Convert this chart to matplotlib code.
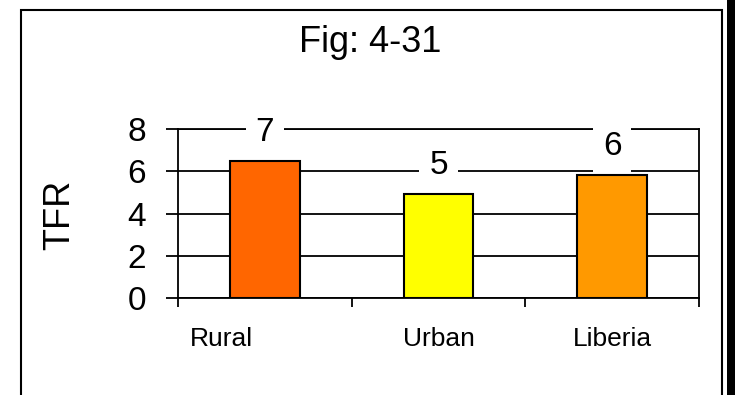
import matplotlib
matplotlib.use("Agg")
import matplotlib.pyplot as plt
from matplotlib.patches import Rectangle
from matplotlib.transforms import ScaledTranslation
import numpy as np

plt.rcParams['font.family'] = ['Liberation Sans', 'DejaVu Sans']

# TFR by residence
categories = ['Rural', 'Urban', 'Liberia']
tfr = [6.5, 4.9, 5.8]
colors = ['#FF6600', '#FFFF00', '#FF9900']
yticks = [0, 2, 4, 6, 8]

fig = plt.figure(figsize=(7.35, 3.95), dpi=100)
ax = fig.add_axes([178 / 735, 1 - 298 / 395, 521 / 735, 169 / 395])

x = np.arange(len(categories))
bars = ax.bar(x, tfr, width=0.4, color=colors, edgecolor='black', linewidth=1.5)

ax.set_xlim(-0.5, len(categories) - 0.5)
ax.set_ylim(0, 8)
ax.set_yticks(yticks)
ax.yaxis.grid(True, color='black', linewidth=1.3)
ax.set_axisbelow(True)

for s in ax.spines.values():
    s.set_linewidth(1.3)
    s.set_color('black')

ax.tick_params(axis='y', direction='out', length=9, width=1.3, pad=14, labelsize=24)
ax.set_xticks(x)
ax.set_xticklabels(categories, fontsize=19)
ax.tick_params(axis='x', which='major', length=0, pad=21)
ax.set_xticks(np.arange(len(categories) + 1) - 0.5, minor=True)
ax.tick_params(axis='x', which='minor', direction='out', length=6.5, width=1.3)

# excel pushes the first category label to the left
shift = ScaledTranslation(-43 / 100, 0, fig.dpi_scale_trans)
lab = ax.get_xticklabels()[0]
lab.set_transform(lab.get_transform() + shift)

ax.set_ylabel('TFR', fontsize=26)
ax.yaxis.set_label_coords(-0.194, 0.49)

# rounded value labels on white boxes
for xi, v in zip(x, tfr):
    ax.annotate(f"{int(v + 0.5)}", (xi, v), xytext=(0, 14.5), textcoords='offset points',
                ha='center', va='baseline', fontsize=24, zorder=5, annotation_clip=False,
                bbox=dict(boxstyle='square,pad=0.3', facecolor='white', edgecolor='none'))

fig.text(370 / 735, 1 - 51.5 / 395, 'Fig: 4-31', ha='center', va='baseline', fontsize=26)

# chart area frame with shadow band on the right
fig.patches.append(Rectangle((21 / 735, -0.2), 701 / 735, 1.2 - 10 / 395,
                             transform=fig.transFigure, fill=False,
                             edgecolor='black', linewidth=1.5))
fig.patches.append(Rectangle((727 / 735, 0), 8 / 735, 1,
                             transform=fig.transFigure, facecolor='black',
                             edgecolor='none'))

fig.savefig('out.png', dpi=100, facecolor='white')
